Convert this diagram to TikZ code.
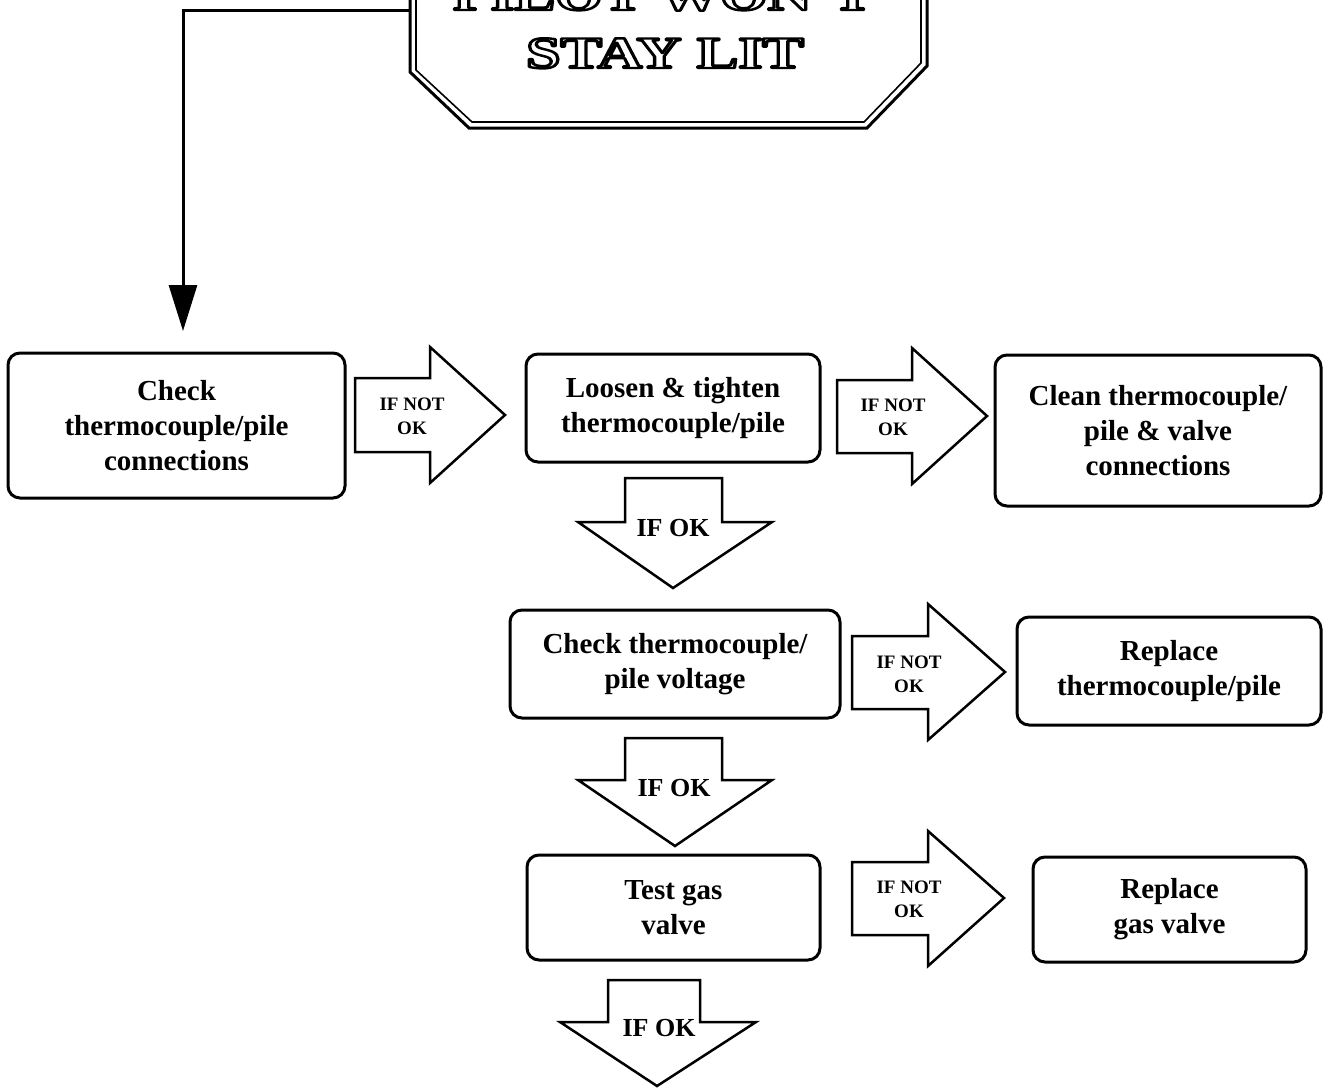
\documentclass[tikz,border=0pt]{standalone}
\usepackage{fontspec}
\setmainfont{Liberation Serif}
\usetikzlibrary{arrows.meta}
\newcommand{\outlinetext}[1]{{\color{white}\special{pdf:literal direct 0 G 2.4 w 1 j 2 Tr}#1\special{pdf:literal direct 0 Tr}}}
\begin{document}
\begin{tikzpicture}[x=1pt,y=-1pt,
  box/.style={draw,line width=3pt,rounded corners=12pt,align=center,
    font=\bfseries\fontsize{29}{35}\selectfont,inner sep=0pt},
  barrow/.style={draw,line width=2.5pt,line join=miter,fill=white},
  nolbl/.style={align=center,font=\bfseries\fontsize{19}{24}\selectfont,inner sep=0pt},
  oklbl/.style={font=\bfseries\fontsize{26}{30}\selectfont,inner sep=0pt},
  ttl/.style={font=\bfseries\fontsize{45}{45}\selectfont,inner sep=0pt,anchor=base},
  conn/.style={line width=3pt,-{Triangle[length=46pt,width=28pt]}},
]
\useasboundingbox (0,0) rectangle (1323,1088);
\clip (0,0) rectangle (1323,1088);
\fill[white] (0,0) rectangle (1323,1088);

% octagon (top cut off)
\draw[line width=3pt,line join=miter] (410,-10) -- (410,72) -- (469,128) -- (867,128) -- (927,66) -- (927,-10);
\draw[line width=1.6pt,line join=miter] (416,-10) -- (416,70) -- (472,122) -- (864,122) -- (921,63) -- (921,-10);

% title text, outlined letters
\node[ttl] (title1) at (663,10) {\scalebox{1.36}[1]{\outlinetext{PILOT WON'T}}};
\node[ttl] (title2) at (665,68) {\scalebox{1.38}[1]{\outlinetext{STAY LIT}}};

% boxes
\node[box,minimum width=337pt,minimum height=145pt] (b1) at (176.5,425.5) {Check\\thermocouple/pile\\connections};
\node[box,minimum width=294pt,minimum height=108pt] (b2) at (673,408) {Loosen \& tighten\\thermocouple/pile};
\node[box,minimum width=326pt,minimum height=151pt] (b3) at (1158,430.5) {Clean thermocouple/\\pile \& valve\\connections};
\node[box,minimum width=330pt,minimum height=108pt] (b4) at (675,664) {Check thermocouple/\\pile voltage};
\node[box,minimum width=304pt,minimum height=108pt] (b5) at (1169,671) {Replace\\thermocouple/pile};
\node[box,minimum width=293pt,minimum height=105pt] (b6) at (673.5,907.5) {Test gas\\valve};
\node[box,minimum width=273pt,minimum height=105pt] (b7) at (1169.5,909.5) {Replace\\gas valve};

% connector from title to first box
\coordinate (octL) at (410,10);
\coordinate (start) at (183,331);
\draw[conn] (octL) -| (start);

% IF NOT OK block arrows
\draw[barrow] (355,378) -- (430,378) -- (430,347) -- (505,415) -- (430,483) -- (430,452) -- (355,452) -- cycle;
\node[nolbl] (n1) at (412,416) {IF NOT\\OK};
\draw[barrow] (837,380) -- (912,380) -- (912,348) -- (987,416) -- (912,484) -- (912,453) -- (837,453) -- cycle;
\node[nolbl] (n2) at (893,417) {IF NOT\\OK};
\draw[barrow] (852,636) -- (928,636) -- (928,604) -- (1005,672) -- (928,740) -- (928,709) -- (852,709) -- cycle;
\node[nolbl] (n3) at (909,674) {IF NOT\\OK};
\draw[barrow] (852,862) -- (928,862) -- (928,831) -- (1004,898) -- (928,966) -- (928,935) -- (852,935) -- cycle;
\node[nolbl] (n4) at (909,899) {IF NOT\\OK};

% IF OK down arrows
\draw[barrow] (625,478) -- (722,478) -- (722,522) -- (772,522) -- (673,588) -- (578,522) -- (625,522) -- cycle;
\node[oklbl] (k1) at (673,528) {IF OK};
\draw[barrow] (625,738) -- (722,738) -- (722,780) -- (772,780) -- (675,846) -- (578,780) -- (625,780) -- cycle;
\node[oklbl] (k2) at (674,788) {IF OK};
\draw[barrow] (608,980) -- (700,980) -- (700,1022) -- (756,1022) -- (657,1086) -- (560,1022) -- (608,1022) -- cycle;
\node[oklbl] (k3) at (659,1028) {IF OK};
\end{tikzpicture}
\end{document}
